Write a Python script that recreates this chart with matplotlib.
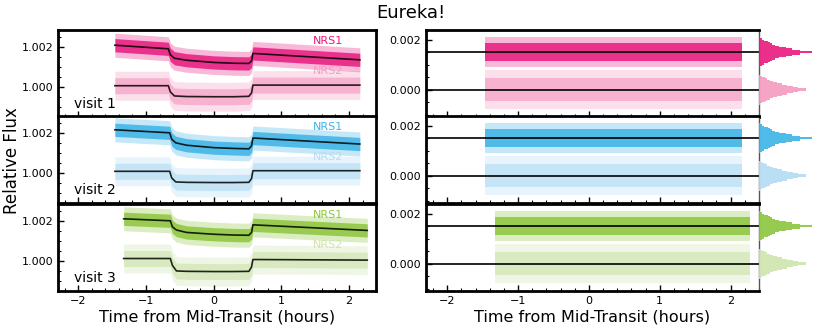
import numpy as np
import matplotlib
matplotlib.use("Agg")
import matplotlib.pyplot as plt
from matplotlib.ticker import MultipleLocator, FormatStrFormatter

# --- data ---
visits = ["visit 1", "visit 2", "visit 3"]
nrs1_colors = ["#e8197f", "#3cb4e6", "#8cc63c"]
nrs2_colors = ["#f49ac0", "#b3dcf4", "#cfe4ad"]

# key times of each visit (start, ingress, in-transit points, egress, end)
t_v1 = [-1.46, -0.67, -0.64, -0.58, -0.4, 0.0, 0.3, 0.52, 0.56, 0.58, 2.16]
t_v2 = [-1.46, -0.65, -0.62, -0.56, -0.4, 0.0, 0.3, 0.52, 0.56, 0.58, 2.16]
t_v3 = [-1.33, -0.64, -0.61, -0.55, -0.4, 0.0, 0.3, 0.52, 0.56, 0.58, 2.27]
times = [t_v1, t_v2, t_v3]

nrs1_model = [
    [1.00208, 1.00190, 1.00160, 1.00143, 1.00133, 1.00122, 1.00118, 1.00117, 1.00130, 1.00167, 1.00135],
    [1.00215, 1.00200, 1.00168, 1.00150, 1.00138, 1.00126, 1.00122, 1.00120, 1.00135, 1.00174, 1.00144],
    [1.00210, 1.00200, 1.00170, 1.00154, 1.00142, 1.00133, 1.00129, 1.00128, 1.00142, 1.00180, 1.00152],
]
nrs2_model = [
    [1.00006, 1.00006, 0.99975, 0.99955, 0.99952, 0.99951, 0.99951, 0.99953, 0.99970, 1.00009, 1.00009],
    [1.00008, 1.00008, 0.99975, 0.99955, 0.99953, 0.99952, 0.99952, 0.99953, 0.99972, 1.00011, 1.00011],
    [1.00012, 1.00012, 0.99978, 0.99950, 0.99948, 0.99947, 0.99947, 0.99948, 0.99970, 1.00007, 1.00004],
]

# scatter half-widths of the points (dense core, outer spikes)
nrs1_scatter = [0.00033, 0.00060]
nrs2_scatter = [0.00040, 0.00072]

# residual offsets and scatter
res_offsets = [0.0015, 0.0]
res1_scatter = [0.00035, 0.00060]
res2_scatter = [0.00045, 0.00078]

# residual histograms (relative bin edges, counts)
hist_edges = [-0.0006, -0.00055, -0.0005, -0.00045, -0.0004, -0.00035, -0.0003, -0.00025,
              -0.0002, -0.00015, -0.0001, -0.00005, 0.0, 0.00005, 0.0001, 0.00015,
              0.0002, 0.00025, 0.0003, 0.00035, 0.0004, 0.00045, 0.0005, 0.00055, 0.0006]
hist_nrs1 = [1, 3, 5, 9, 11, 13, 16, 20, 26, 32, 40, 52,
             52, 40, 32, 26, 20, 16, 13, 11, 9, 5, 3, 1]
hist_nrs2 = [1, 3, 6, 8, 11, 14, 18, 23, 27, 33, 38, 46,
             46, 38, 33, 27, 23, 18, 14, 11, 8, 6, 3, 1]

fig = plt.figure(figsize=(8.22, 3.28), dpi=100)

row_bottoms = [0.6433, 0.3811, 0.1128]
row_h = 0.2660
lx, lw_ = 0.0706, 0.3869
rx, rw = 0.5182, 0.4051
hx, hw = 0.9234, 0.0766


def style_axes(ax, bottom_labels):
    for s in ["left", "top", "bottom", "right"]:
        ax.spines[s].set_linewidth(2)
    ax.tick_params(which="both", direction="in", labelsize=8, top=False, right=False)
    ax.tick_params(which="major", length=4, width=1)
    ax.tick_params(which="minor", length=2, width=0.8)
    ax.xaxis.set_major_locator(MultipleLocator(1))
    ax.xaxis.set_minor_locator(MultipleLocator(0.2))
    ax.set_xlim(-2.3, 2.4)
    if not bottom_labels:
        ax.tick_params(axis="x", labelbottom=False)


for i in range(3):
    t = np.array(times[i])
    m1 = np.array(nrs1_model[i])
    m2 = np.array(nrs2_model[i])

    ax = fig.add_axes([lx, row_bottoms[i], lw_, row_h])
    style_axes(ax, i == 2)
    ax.set_ylim(0.99850, 1.00285)
    ax.yaxis.set_major_locator(MultipleLocator(0.002))
    ax.yaxis.set_minor_locator(MultipleLocator(0.0005))
    ax.yaxis.set_major_formatter(FormatStrFormatter("%.3f"))

    ax.fill_between(t, m2 - nrs2_scatter[1], m2 + nrs2_scatter[1],
                    color=nrs2_colors[i], alpha=0.3, lw=0)
    ax.fill_between(t, m2 - nrs2_scatter[0], m2 + nrs2_scatter[0],
                    color=nrs2_colors[i], alpha=0.65, lw=0)
    ax.fill_between(t, m1 - nrs1_scatter[1], m1 + nrs1_scatter[1],
                    color=nrs1_colors[i], alpha=0.3, lw=0)
    ax.fill_between(t, m1 - nrs1_scatter[0], m1 + nrs1_scatter[0],
                    color=nrs1_colors[i], alpha=0.85, lw=0)
    ax.plot(t, m1, color="k", lw=1.2, alpha=0.85)
    ax.plot(t, m2, color="k", lw=1.2, alpha=0.85)

    ax.text(0.85, 0.875, "NRS1", color=nrs1_colors[i], fontsize=8,
            transform=ax.transAxes, ha="center", va="center")
    ax.text(0.85, 0.53, "NRS2", color=nrs2_colors[i], fontsize=8,
            transform=ax.transAxes, ha="center", va="center")
    ax.text(0.05, 0.07, visits[i], fontsize=10, transform=ax.transAxes,
            ha="left", va="bottom")

    # residuals
    axr = fig.add_axes([rx, row_bottoms[i], rw, row_h])
    style_axes(axr, i == 2)
    axr.spines["right"].set_linewidth(1)
    axr.spines["right"].set_color("#555555")
    axr.set_ylim(-0.0011, 0.0024)
    axr.yaxis.set_major_locator(MultipleLocator(0.002))
    axr.yaxis.set_minor_locator(MultipleLocator(0.0005))
    axr.yaxis.set_major_formatter(FormatStrFormatter("%.3f"))
    tr = [t[0], t[-1]]
    for off, sc, col, a in [(res_offsets[1], res2_scatter, nrs2_colors[i], 0.65),
                            (res_offsets[0], res1_scatter, nrs1_colors[i], 0.85)]:
        axr.fill_between(tr, off - sc[1], off + sc[1], color=col, alpha=0.3, lw=0)
        axr.fill_between(tr, off - sc[0], off + sc[0], color=col, alpha=a, lw=0)
    for off in res_offsets:
        axr.axhline(off, color="k", lw=1.2)

    # histograms of residuals
    axh = fig.add_axes([hx, row_bottoms[i], hw, row_h])
    axh.set_ylim(-0.0011, 0.0024)
    edges = np.array(hist_edges)
    centers = (edges[:-1] + edges[1:]) / 2
    axh.hist(centers + res_offsets[1], bins=edges + res_offsets[1], weights=hist_nrs2,
             orientation="horizontal", histtype="stepfilled", color=nrs2_colors[i], alpha=0.9)
    axh.hist(centers + res_offsets[0], bins=edges + res_offsets[0], weights=hist_nrs1,
             orientation="horizontal", histtype="stepfilled", color=nrs1_colors[i], alpha=0.9)
    axh.set_xlim(0, max(hist_nrs1) * 63 / 53)
    axh.axis("off")

fig.text(0.5, 0.96, "Eureka!", fontsize=13, ha="center", va="center")
fig.text(0.014, 0.51, "Relative Flux", fontsize=12, rotation=90, ha="center", va="center")
fig.text(lx + lw_ / 2, 0.035, "Time from Mid-Transit (hours)", fontsize=11.5, ha="center", va="center")
fig.text(rx + rw / 2, 0.035, "Time from Mid-Transit (hours)", fontsize=11.5, ha="center", va="center")

fig.savefig("out.png", dpi=100)
